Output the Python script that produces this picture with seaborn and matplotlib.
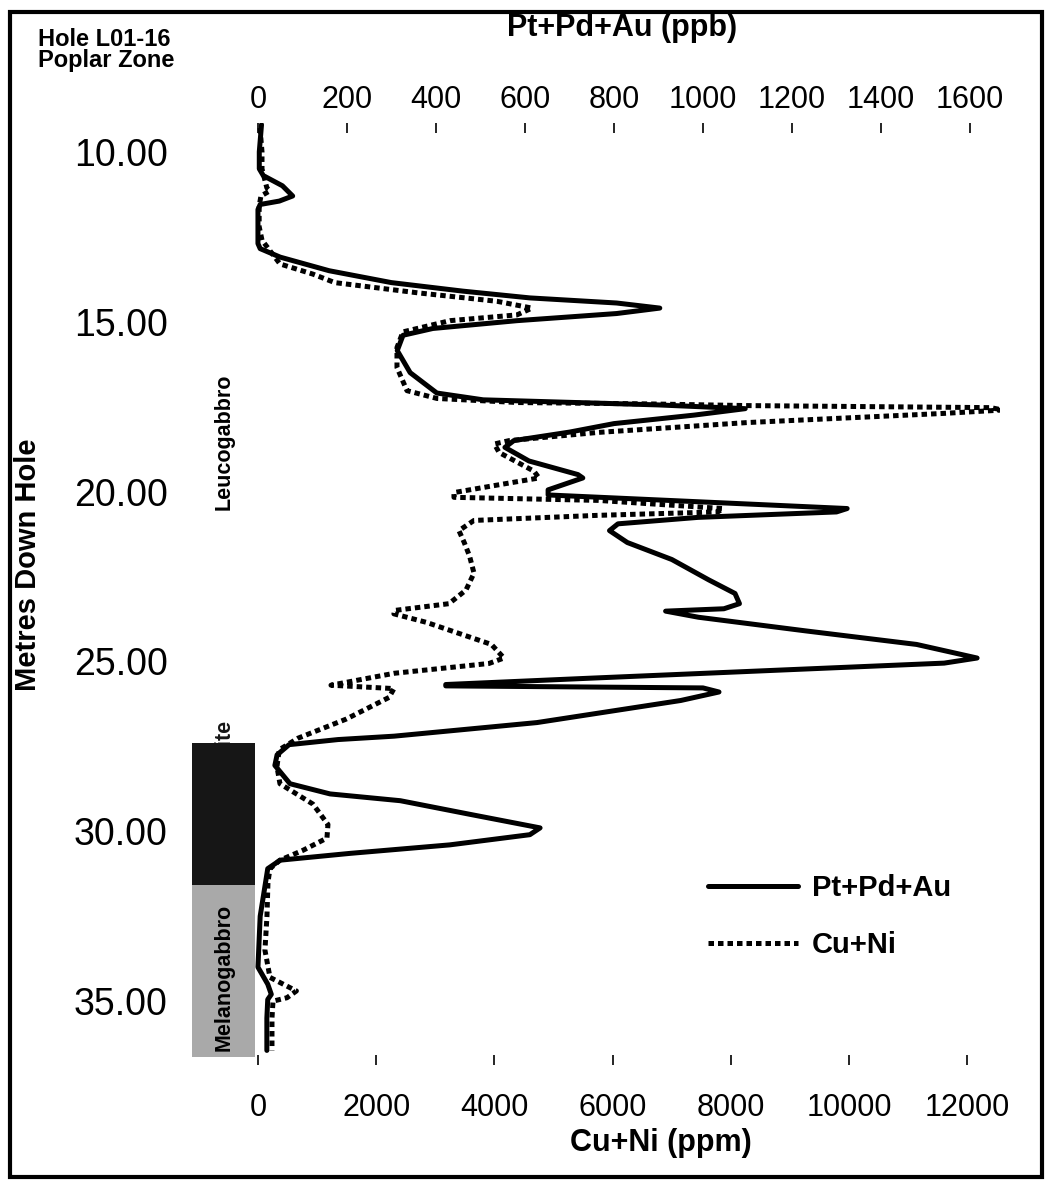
"""
Drill hole profile: Pt+Pd+Au (ppb) and Cu+Ni (ppm) versus depth, Hole L01-16.
"""

import matplotlib
matplotlib.use("Agg")
import matplotlib.pyplot as plt
from matplotlib.lines import Line2D
from matplotlib.patches import Rectangle
from matplotlib.transforms import blended_transform_factory
import pandas as pd
import seaborn as sns

# Pt+Pd+Au (ppb)
pgm_depth = [9.2, 10.0, 10.5, 10.7, 11.0, 11.3, 11.45, 11.55, 11.7, 12.7, 12.85,
             13.1, 13.5, 13.85, 14.1, 14.3, 14.45, 14.6, 14.76, 14.97, 15.2, 15.4,
             15.85, 16.5, 17.1, 17.3, 17.45, 17.56, 17.75, 18.0, 18.25, 18.5, 18.7,
             19.1, 19.5, 19.6, 19.95, 20.1, 20.3, 20.5, 20.6, 20.76, 20.95, 21.15,
             21.5, 22.0, 22.6, 23.0, 23.3, 23.45, 23.52, 23.7, 24.1, 24.5, 24.9,
             25.05, 25.26, 25.5, 25.68, 25.72, 25.78, 25.9, 26.15, 26.8, 27.2, 27.3,
             27.45, 27.75, 28.06, 28.6, 28.9, 29.1, 29.5, 29.9, 30.1, 30.4, 30.65,
             30.85, 31.1, 32.5, 34.0, 34.5, 34.8, 34.95, 35.5, 36.45]
pgm_ppb = [8, 3, 3, 12, 55, 78, 48, 5, 0, 0, 5,
           50, 160, 300, 460, 611, 806, 903, 806, 582, 393, 326,
           313, 342, 402, 506, 900, 1095, 980, 800, 700, 575, 555,
           609, 719, 730, 652, 652, 989, 1324, 1300, 989, 809, 790,
           830, 930, 1013, 1072, 1082, 1047, 916, 990, 1230, 1480, 1616,
           1542, 1164, 735, 422, 422, 1000, 1036, 950, 627, 306, 180,
           70, 43, 38, 72, 162, 320, 476, 634, 611, 431, 207,
           50, 22, 5, 0, 22, 30, 22, 20, 20]

# Cu+Ni (ppm)
base_depth = [9.3, 10.0, 10.5, 11.06, 11.15, 11.3, 11.6, 12.2, 12.6, 13.3, 13.6,
              13.85, 14.15, 14.4, 14.6, 14.8, 14.97, 15.3, 15.76, 16.35, 17.03,
              17.26, 17.38, 17.42, 17.47, 17.53, 17.6, 17.7, 17.97, 18.26, 18.5,
              18.6, 18.85, 19.4, 19.6, 19.8, 20.03, 20.17, 20.26, 20.5, 20.6, 20.7,
              20.85, 21.15, 21.5, 21.9, 22.4, 22.9, 23.3, 23.5, 23.6, 23.85, 24.5,
              24.9, 25.06, 25.35, 25.7, 25.8, 26.06, 26.7, 27.26, 27.6, 28.1, 28.6,
              29.2, 29.8, 30.2, 30.56, 30.85, 31.1, 31.5, 32.5, 33.5, 34.3, 34.7,
              34.9, 35.0, 35.5, 36.45]
base_ppm = [34, 68, 68, 150, 200, 50, 20, 20, 68, 372, 930,
            1300, 2700, 4044, 4636, 4382, 3249, 2453, 2352, 2352, 2521,
            3029, 4400, 6600, 8300, 12400, 12600, 11600, 8270, 5750, 4250,
            4000, 4080, 4670, 4755, 4078, 3316, 3316, 5753, 7868, 7783, 5753,
            3655, 3400, 3490, 3580, 3655, 3519, 3232, 2310, 2300, 2850, 3950,
            4162, 3909, 2301, 1235, 2301, 2217, 1489, 677, 360, 321, 372,
            930, 1184, 1167, 761, 372, 203, 169, 152, 118, 203, 650,
            490, 254, 237, 237]

# lithology column (depth intervals, m)
litho_names = ["Pyroxenite", "Melanogabbro"]
litho_top = [27.41, 31.59]
litho_bottom = [31.59, 36.65]
litho_colors = ["#161616", "#a9a9a9"]

ppb_ticks = [0, 200, 400, 600, 800, 1000, 1200, 1400, 1600]
ppm_ticks = [0, 2000, 4000, 6000, 8000, 10000, 12000]
depth_ticks = [10, 15, 20, 25, 30, 35]


def main():
    sns.set_theme(style="white")
    plt.rcParams["font.family"] = ["Liberation Sans", "DejaVu Sans"]
    plt.rcParams["text.color"] = "black"
    plt.rcParams["axes.labelcolor"] = "black"
    plt.rcParams["xtick.color"] = "black"
    plt.rcParams["ytick.color"] = "black"

    pgm = pd.DataFrame({"depth": pgm_depth, "ppb": pgm_ppb})
    base = pd.DataFrame({"depth": base_depth, "ppm": base_ppm})

    fig = plt.figure(figsize=(10.46, 11.81), dpi=100)
    ax = fig.add_axes([0.1816, 0.0982, 0.7744, 0.7977])
    ax2 = ax.twiny()

    # Cu+Ni on the bottom axis, dotted
    sns.lineplot(data=base, x="ppm", y="depth", ax=ax, sort=False, estimator=None,
                 color="black", linewidth=3.6, linestyle=(0, (1.1, 0.8)),
                 dash_capstyle="butt")
    # Pt+Pd+Au on the top axis, solid
    sns.lineplot(data=pgm, x="ppb", y="depth", ax=ax2, sort=False, estimator=None,
                 color="black", linewidth=3.6, solid_capstyle="round",
                 solid_joinstyle="round")

    ax.set_xlim(-1151, 12555)
    ax2.set_xlim(-152.8, 1667.4)
    ax.set_ylim(36.88, 9.15)

    for a in (ax, ax2):
        for s in a.spines.values():
            s.set_visible(False)

    ax.set_yticks(depth_ticks)
    ax.set_yticklabels([f"{d:.2f}" for d in depth_ticks], fontsize=27)
    ax.tick_params(axis="y", length=0, pad=16)
    ax.set_ylabel("Metres Down Hole", fontsize=21, fontweight="bold")
    ax.yaxis.set_label_coords(-0.183, 0.531)

    ax.set_xticks(ppm_ticks)
    ax.set_xticklabels([str(v) for v in ppm_ticks], fontsize=22)
    ax.tick_params(axis="x", bottom=True, direction="in", length=7, width=1.2,
                   color="black", pad=20)
    ax.set_xlabel("Cu+Ni (ppm)", fontsize=22, fontweight="bold", labelpad=2)
    ax.xaxis.set_label_coords((661 - 190) / 810, -0.067)

    ax2.set_xticks(ppb_ticks)
    ax2.set_xticklabels([str(v) for v in ppb_ticks], fontsize=22)
    ax2.tick_params(axis="x", top=True, direction="in", length=7, width=1.2,
                    color="black", pad=6)
    ax2.set_xlabel("")
    ax2.set_ylabel("")
    fig.text(622 / 1046, 1 - 28 / 1181, "Pt+Pd+Au (ppb)", fontsize=22,
             fontweight="bold", ha="center", va="center")

    # lithology column left of the zero line
    trans = blended_transform_factory(ax.transAxes, ax.transData)
    x0 = (192 - 190) / 810
    w = (255 - 192) / 810
    for top, bot, col in zip(litho_top, litho_bottom, litho_colors):
        ax.add_patch(Rectangle((x0, top), w, bot - top, transform=trans,
                               facecolor=col, edgecolor="none", zorder=0))
    text_x = (224 - 190) / 810
    ax.text(text_x, 18.53, "Leucogabbro", transform=trans, rotation=90,
            ha="center", va="center", fontsize=15.5, fontweight="bold")
    ax.text(text_x, 28.3, litho_names[0], transform=trans, rotation=90,
            ha="center", va="center", fontsize=15.5, fontweight="bold",
            color=litho_colors[0], zorder=1)
    ax.text(text_x, 34.3, litho_names[1], transform=trans, rotation=90,
            ha="center", va="center", fontsize=15.5, fontweight="bold", zorder=1)

    # hole name
    fig.text(38 / 1046, 1 - 50 / 1181, "Hole L01-16\nPoplar Zone", fontsize=17,
             fontweight="bold", ha="left", va="center", linespacing=0.92)

    # legend
    handles = [Line2D([], [], color="black", linewidth=3.6),
               Line2D([], [], color="black", linewidth=3.6,
                      linestyle=(0, (1.1, 0.8)), dash_capstyle="butt")]
    ax2.legend(handles, ["Pt+Pd+Au", "Cu+Ni"], frameon=False,
               loc="upper left", bbox_to_anchor=((708 - 190) / 810, (1065 - 874) / 942),
               borderpad=0, borderaxespad=0, handlelength=3.1,
               handletextpad=0.45, labelspacing=1.0,
               prop={"size": 21, "weight": "bold"})

    # outer frame
    fig.patches.append(Rectangle((10 / 1046, 1 - 1177 / 1181), 1032 / 1046, 1165 / 1181,
                                 transform=fig.transFigure, fill=False,
                                 edgecolor="black", linewidth=3))

    fig.savefig("out.png", dpi=100)


if __name__ == "__main__":
    main()
